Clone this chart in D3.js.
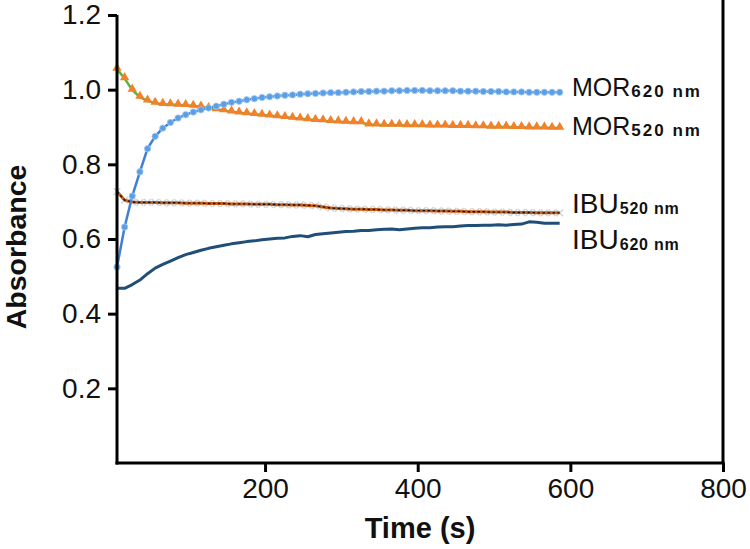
<!DOCTYPE html>
<html>
<head>
<meta charset="utf-8">
<script src="https://cdn.jsdelivr.net/npm/d3@7"></script>
<style>
  body { margin: 0; background: #fff; }
  svg { display: block; font-family: "Liberation Sans", Arial, sans-serif; }
</style>
</head>
<body>
<svg id="chart" width="750" height="549"></svg>
<script>
// sample times (s)
const times = [6, 16, 26, 36, 46, 56, 66, 76, 86, 96, 106, 116, 126, 136, 146, 156, 166, 176, 186, 196,
  206, 216, 226, 236, 246, 256, 266, 276, 286, 296, 306, 316, 326, 336, 346, 356, 366, 376, 386, 396,
  406, 416, 426, 436, 446, 456, 466, 476, 486, 496, 506, 516, 526, 536, 546, 556, 566, 576, 586];

const mor620 = [0.525, 0.632, 0.715, 0.780, 0.842, 0.875, 0.897, 0.912, 0.924, 0.933, 0.940, 0.946, 0.951, 0.956, 0.961, 0.966, 0.969, 0.973, 0.976, 0.979,
  0.981, 0.983, 0.985, 0.986, 0.988, 0.989, 0.990, 0.991, 0.992, 0.992, 0.993, 0.994, 0.995, 0.995, 0.996, 0.996, 0.997, 0.997, 0.998, 0.998,
  0.998, 0.997, 0.997, 0.997, 0.997, 0.996, 0.996, 0.996, 0.995, 0.995, 0.995, 0.994, 0.994, 0.994, 0.993, 0.993, 0.993, 0.993, 0.993];

const mor520 = [1.055, 1.030, 0.999, 0.980, 0.970, 0.964, 0.961, 0.960, 0.959, 0.958, 0.956, 0.954, 0.950, 0.947, 0.944, 0.941, 0.938, 0.936, 0.934, 0.932,
  0.930, 0.928, 0.926, 0.924, 0.922, 0.920, 0.918, 0.917, 0.915, 0.914, 0.913, 0.912, 0.912, 0.906, 0.906, 0.905, 0.905, 0.905, 0.904, 0.904,
  0.904, 0.903, 0.903, 0.903, 0.902, 0.902, 0.902, 0.901, 0.901, 0.900, 0.900, 0.900, 0.899, 0.899, 0.898, 0.898, 0.898, 0.897, 0.897];

const ibu520 = [0.727, 0.704, 0.699, 0.698, 0.698, 0.698, 0.697, 0.697, 0.697, 0.696, 0.696, 0.696, 0.695, 0.695, 0.695, 0.694, 0.694, 0.694, 0.693, 0.693,
  0.693, 0.692, 0.692, 0.691, 0.691, 0.690, 0.689, 0.686, 0.683, 0.682, 0.681, 0.680, 0.680, 0.679, 0.679, 0.678, 0.678, 0.677, 0.677, 0.676,
  0.676, 0.676, 0.675, 0.675, 0.674, 0.674, 0.673, 0.673, 0.673, 0.672, 0.672, 0.672, 0.671, 0.671, 0.671, 0.670, 0.670, 0.670, 0.670];

const ibu620 = [0.468, 0.468, 0.478, 0.490, 0.507, 0.522, 0.532, 0.541, 0.550, 0.558, 0.564, 0.570, 0.575, 0.579, 0.583, 0.587, 0.590, 0.593, 0.595, 0.598,
  0.600, 0.602, 0.603, 0.607, 0.609, 0.606, 0.612, 0.614, 0.616, 0.618, 0.620, 0.621, 0.623, 0.623, 0.625, 0.626, 0.627, 0.625, 0.627, 0.629,
  0.630, 0.630, 0.632, 0.633, 0.633, 0.635, 0.636, 0.636, 0.637, 0.637, 0.638, 0.637, 0.639, 0.640, 0.646, 0.645, 0.642, 0.642, 0.642];

const xTicks = [200, 400, 600, 800];
const yTicks = [0.2, 0.4, 0.6, 0.8, 1.0, 1.2];

const labelNames = ["MOR", "MOR", "IBU", "IBU"];
const labelSubs = ["620 nm", "520 nm", "520 nm", "620 nm"];

// layout
const plot = { left: 117, right: 723, top: 15, bottom: 463 };
const svg = d3.select("#chart");

const x = d3.scaleLinear().domain([6, 800]).range([plot.left, plot.right]);
const y = d3.scaleLinear().domain([0, 1.2]).range([plot.bottom, plot.top]);

const rows = arr => times.map((t, i) => ({ t: t, v: arr[i] }));
const line = d3.line().x(d => x(d.t)).y(d => y(d.v));

const g = svg.append("g");

// IBU 620 nm
g.append("path").datum(rows(ibu620))
  .attr("d", line).attr("fill", "none")
  .attr("stroke", "#1f4e79").attr("stroke-width", 3).attr("stroke-linejoin", "round");

// IBU 520 nm - grey crosses, orange line with black dashes
g.selectAll(".ibuX").data(rows(ibu520)).join("path")
  .attr("class", "ibuX")
  .attr("transform", d => `translate(${x(d.t)},${y(d.v)})`)
  .attr("d", d3.symbol(d3.symbolX, 32))
  .attr("fill", "none").attr("stroke", "#d2d2d2").attr("stroke-width", 1.4);
g.append("path").datum(rows(ibu520))
  .attr("d", line).attr("fill", "none")
  .attr("stroke", "#c8601a").attr("stroke-width", 3);
g.append("path").datum(rows(ibu520))
  .attr("d", line).attr("fill", "none")
  .attr("stroke", "#111").attr("stroke-width", 1.4).attr("stroke-dasharray", "2.5,2.5");

// MOR 520 nm - green line, orange triangles
g.append("path").datum(rows(mor520))
  .attr("d", line).attr("fill", "none")
  .attr("stroke", "#5fb33a").attr("stroke-width", 2.5);
g.selectAll(".morTri").data(rows(mor520)).join("path")
  .attr("class", "morTri")
  .attr("transform", d => `translate(${x(d.t)},${y(d.v) - 1})`)
  .attr("d", d3.symbol(d3.symbolTriangle, 38))
  .attr("fill", "#f28129");

// MOR 620 nm - blue line, circles
g.append("path").datum(rows(mor620))
  .attr("d", line).attr("fill", "none")
  .attr("stroke", "#3f7fd9").attr("stroke-width", 2.5);
g.selectAll(".morDot").data(rows(mor620)).join("circle")
  .attr("class", "morDot")
  .attr("cx", d => x(d.t)).attr("cy", d => y(d.v)).attr("r", 3.2)
  .attr("fill", "#5a9fe6").attr("stroke", "#a8cdf2").attr("stroke-width", 0.8);

// axes
const xAxis = svg.append("g")
  .attr("transform", `translate(0,${plot.bottom})`)
  .call(d3.axisBottom(x).tickValues(xTicks).tickSize(9).tickPadding(6).tickSizeOuter(0));
const yAxis = svg.append("g")
  .attr("transform", `translate(${plot.left},0)`)
  .call(d3.axisLeft(y).tickValues(yTicks).tickFormat(d3.format(".1f")).tickSize(9).tickPadding(7).tickSizeOuter(0));

[xAxis, yAxis].forEach(a => {
  a.select(".domain").attr("stroke", "#000").attr("stroke-width", 3);
  a.selectAll(".tick line").attr("stroke", "#000").attr("stroke-width", 3);
  a.selectAll(".tick text").attr("fill", "#111").style("font-size", "28px");
});
yAxis.select(".domain").attr("d", `M0,${plot.top}V${plot.bottom + 1.5}`);
xAxis.select(".domain").attr("d", `M${plot.left - 1.5},0H${plot.right + 1.5}`);

// right frame line
svg.append("line")
  .attr("x1", plot.right).attr("x2", plot.right)
  .attr("y1", 0).attr("y2", plot.bottom)
  .attr("stroke", "#000").attr("stroke-width", 3);

// axis titles
svg.append("text")
  .attr("x", (plot.left + plot.right) / 2).attr("y", 538)
  .attr("text-anchor", "middle")
  .style("font-size", "29px").style("font-weight", "bold")
  .attr("fill", "#111")
  .text("Time (s)");
svg.append("text")
  .attr("transform", "translate(26,247) rotate(-90)")
  .attr("text-anchor", "middle")
  .style("font-size", "28.5px").style("font-weight", "bold")
  .attr("fill", "#111")
  .text("Absorbance");

// series labels (one text per label, subscript as tspan)
const labelBase = [95.5, 134.5, 212.5, 249];
const mainSize = [25, 25, 28, 28];
const subSize = [17, 17, 16, 16];
const subSpacing = [2, 2, 0.8, 0.8];
labelNames.forEach((name, i) => {
  const t = svg.append("text")
    .attr("x", 572).attr("y", labelBase[i])
    .attr("fill", "#111");
  t.append("tspan")
    .style("font-size", mainSize[i] + "px")
    .text(name);
  t.append("tspan")
    .attr("dx", 1).attr("dy", 1)
    .style("font-size", subSize[i] + "px").style("font-weight", "bold")
    .style("letter-spacing", subSpacing[i] + "px")
    .text(labelSubs[i]);
});
</script>
</body>
</html>
